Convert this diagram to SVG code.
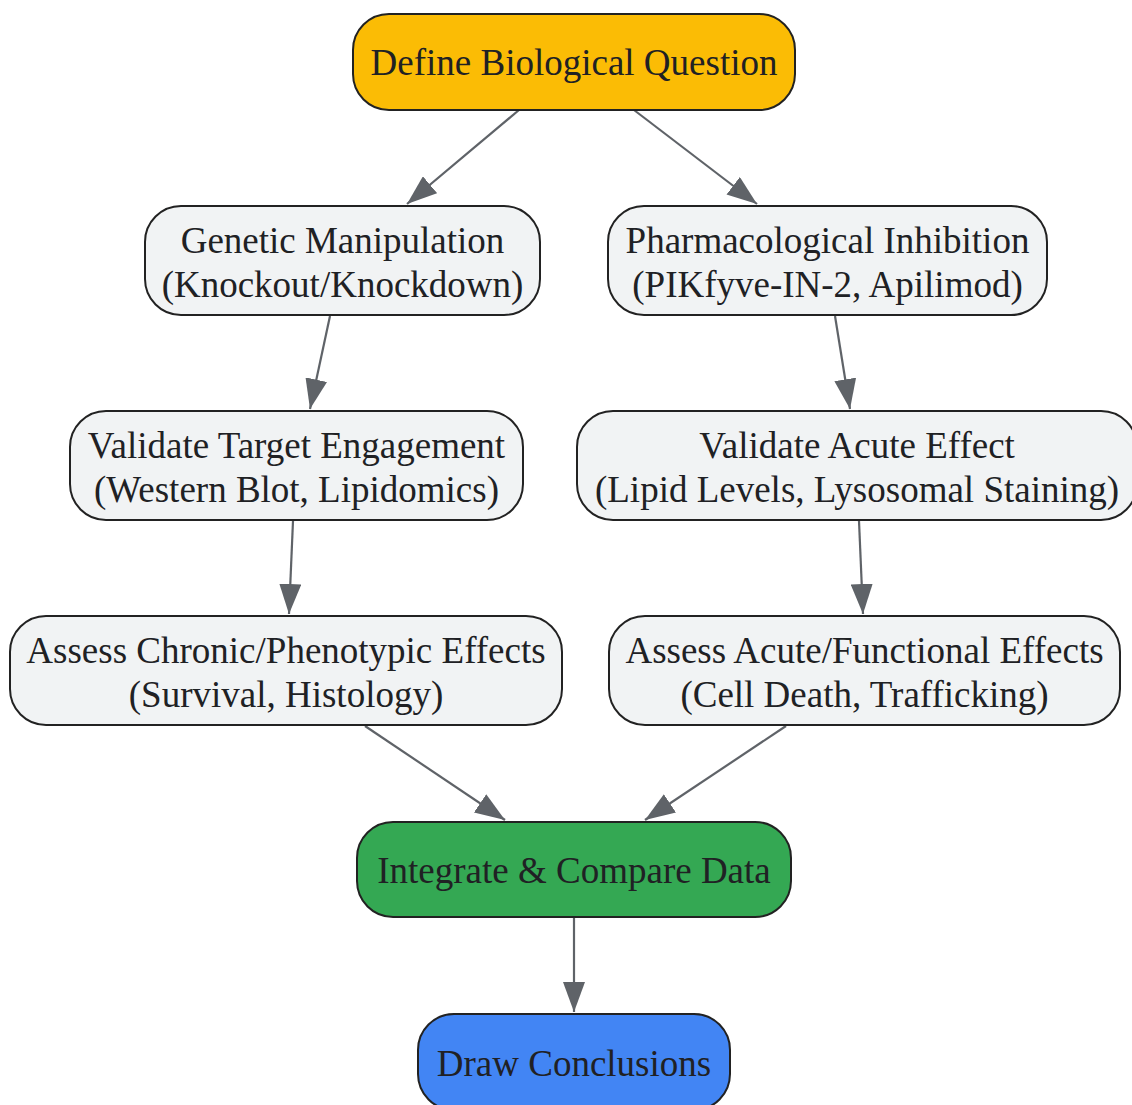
<svg xmlns="http://www.w3.org/2000/svg" width="1132" height="1105" viewBox="0 0 1132 1105">
<style>
.n rect{stroke:#222222;stroke-width:2}
.g rect{fill:#F1F3F4}
text{font-family:"Liberation Serif","Times New Roman",serif;font-size:37px;fill:#202124;text-anchor:middle}
.e line{stroke:#5F6368;stroke-width:2.2;fill:none}
</style>
<defs>
<marker id="ah" markerUnits="userSpaceOnUse" markerWidth="30" markerHeight="22" refX="30" refY="11" orient="auto">
<path d="M0,0 L30,11 L0,22 z" fill="#5F6368"/>
</marker>
</defs>
<rect width="1132" height="1105" fill="#ffffff"/>
<g id="connectors" class="e">
<line x1="519" y1="110" x2="407" y2="204" marker-end="url(#ah)"/>
<line x1="634" y1="110" x2="757" y2="204" marker-end="url(#ah)"/>
<line x1="330" y1="316" x2="310" y2="409" marker-end="url(#ah)"/>
<line x1="835" y1="316" x2="850" y2="409" marker-end="url(#ah)"/>
<line x1="293" y1="521" x2="289" y2="614" marker-end="url(#ah)"/>
<line x1="859" y1="521" x2="863" y2="614" marker-end="url(#ah)"/>
<line x1="365" y1="726" x2="505" y2="820" marker-end="url(#ah)"/>
<line x1="786" y1="726" x2="645" y2="820" marker-end="url(#ah)"/>
<line x1="574" y1="918" x2="574" y2="1012" marker-end="url(#ah)"/>
</g>
<g id="define" class="n">
<rect x="353" y="14" width="442" height="96" rx="36" fill="#FBBC05"/>
<text x="574" y="75">Define Biological Question</text>
</g>
<g id="genetic" class="n g">
<rect x="145" y="206" width="395" height="109" rx="36"/>
<text x="342.5" y="253">Genetic Manipulation</text>
<text x="342.5" y="297">(Knockout/Knockdown)</text>
</g>
<g id="pharma" class="n g">
<rect x="608" y="206" width="439" height="109" rx="36"/>
<text x="827.5" y="253">Pharmacological Inhibition</text>
<text x="827.5" y="297">(PIKfyve-IN-2, Apilimod)</text>
</g>
<g id="validate-target" class="n g">
<rect x="70" y="411" width="453" height="109" rx="36"/>
<text x="296.5" y="458">Validate Target Engagement</text>
<text x="296.5" y="502">(Western Blot, Lipidomics)</text>
</g>
<g id="validate-acute" class="n g">
<rect x="577" y="411" width="560" height="109" rx="36"/>
<text x="857" y="458">Validate Acute Effect</text>
<text x="857" y="502">(Lipid Levels, Lysosomal Staining)</text>
</g>
<g id="assess-chronic" class="n g">
<rect x="10" y="616" width="552" height="109" rx="36"/>
<text x="286" y="663">Assess Chronic/Phenotypic Effects</text>
<text x="286" y="707">(Survival, Histology)</text>
</g>
<g id="assess-acute" class="n g">
<rect x="609" y="616" width="511" height="109" rx="36"/>
<text x="864.5" y="663">Assess Acute/Functional Effects</text>
<text x="864.5" y="707">(Cell Death, Trafficking)</text>
</g>
<g id="integrate" class="n">
<rect x="357" y="822" width="434" height="95" rx="36" fill="#34A853"/>
<text x="574" y="883">Integrate &amp; Compare Data</text>
</g>
<g id="draw" class="n">
<rect x="418" y="1014" width="312" height="96" rx="36" fill="#4285F4"/>
<text x="574" y="1076">Draw Conclusions</text>
</g>
</svg>
